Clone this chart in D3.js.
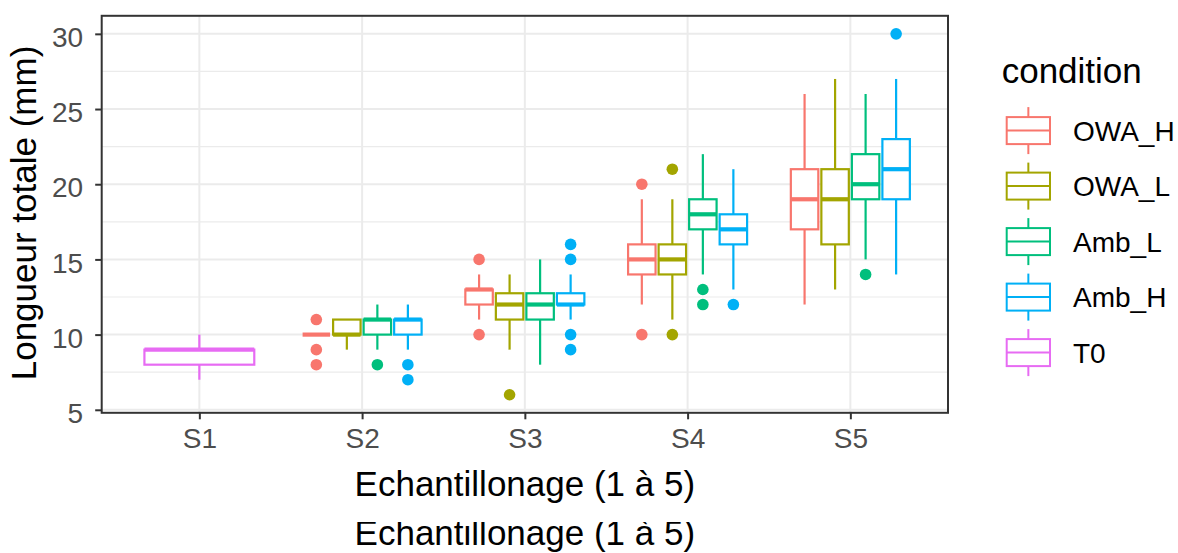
<!DOCTYPE html>
<html>
<head>
<meta charset="utf-8">
<script src="https://cdn.jsdelivr.net/npm/d3@7"></script>
<style>
  html, body { margin: 0; padding: 0; background: #ffffff; }
  svg { display: block; font-family: "Liberation Sans", Arial, sans-serif; }
</style>
</head>
<body>
<svg id="chart" width="1178" height="553"></svg>
<script>
// Sampling rounds and experimental conditions
const samples = ["S1", "S2", "S3", "S4", "S5"];
const conditions = ["OWA_H", "OWA_L", "Amb_L", "Amb_H", "T0"];
const colors = ["#F8766D", "#A3A500", "#00BF7D", "#00B0F6", "#E76BF3"];

// Box summaries per sample: [lower whisker, Q1, median, Q3, upper whisker]
const owaH = [null, [10, 10, 10, 10, 10], [11, 12, 13, 13, 14], [12, 14, 15, 16, 19], [12, 17, 19, 21, 26]];
const owaL = [null, [9, 10, 10, 11, 11], [9, 11, 12, 12.75, 14], [11, 14, 15, 16, 19], [13, 16, 19, 21, 27]];
const ambL = [null, [9, 10, 11, 11, 12], [8, 11, 12, 12.75, 15], [14, 17, 18, 19, 22], [15, 19, 20, 22, 26]];
const ambH = [null, [9, 10, 11, 11, 12], [11, 12, 12, 12.75, 14], [13, 16, 17, 18, 21], [14, 19, 21, 23, 27]];
const t0 = [[7, 8, 9, 9, 10], null, null, null, null];

// Outlying observations per sample
const owaHOut = [[], [11, 9, 8], [15, 10], [20, 10], []];
const owaLOut = [[], [], [6], [21, 10], []];
const ambLOut = [[], [8], [], [13, 12], [14]];
const ambHOut = [[], [8, 7], [16, 15, 10, 9], [12], [30]];
const t0Out = [[], [], [], [], []];

// Y axis breaks
const yMajor = [5, 10, 15, 20, 25, 30];
const yMinor = [7.5, 12.5, 17.5, 22.5, 27.5];

const stats = [owaH, owaL, ambL, ambH, t0];
const outs = [owaHOut, owaLOut, ambLOut, ambHOut, t0Out];

const svg = d3.select("#chart");
const panel = { left: 101.7, right: 948, top: 15.8, bottom: 412.8 };

const x = d3.scalePoint().domain(samples).range([panel.left, panel.right]).padding(0.6);
const y = d3.scaleLinear().domain([4.8, 31.2]).range([panel.bottom, panel.top]);
const color = d3.scaleOrdinal().domain(conditions).range(colors);

const step = x.step();
const dodgeWidth = 0.75 * step;

// Panel background and grid
svg.append("rect")
  .attr("x", panel.left).attr("y", panel.top)
  .attr("width", panel.right - panel.left).attr("height", panel.bottom - panel.top)
  .attr("fill", "#ffffff");

const grid = svg.append("g");
grid.selectAll("line.minor").data(yMinor).join("line")
  .attr("x1", panel.left).attr("x2", panel.right)
  .attr("y1", d => y(d)).attr("y2", d => y(d))
  .attr("stroke", "#EBEBEB").attr("stroke-width", 1.2);
grid.selectAll("line.majorY").data(yMajor).join("line")
  .attr("x1", panel.left).attr("x2", panel.right)
  .attr("y1", d => y(d)).attr("y2", d => y(d))
  .attr("stroke", "#EBEBEB").attr("stroke-width", 2);
grid.selectAll("line.majorX").data(samples).join("line")
  .attr("x1", d => x(d)).attr("x2", d => x(d))
  .attr("y1", panel.top).attr("y2", panel.bottom)
  .attr("stroke", "#EBEBEB").attr("stroke-width", 2);

// Build dodged box records
const boxes = [];
samples.forEach((s, si) => {
  const present = conditions.map((c, ci) => ci).filter(ci => stats[ci][si]);
  const n = present.length;
  const slot = dodgeWidth / n;
  present.forEach((ci, k) => {
    const cx = x(s) - dodgeWidth / 2 + slot * (k + 0.5);
    const v = stats[ci][si];
    boxes.push({
      cond: conditions[ci], cx, w: slot * 0.9,
      lo: v[0], q1: v[1], med: v[2], q3: v[3], hi: v[4],
      out: outs[ci][si]
    });
  });
});

const marks = svg.append("g");
const bg = marks.selectAll("g.box").data(boxes).join("g").attr("class", "box");

// outliers
bg.each(function (b) {
  d3.select(this).selectAll("circle").data(b.out).join("circle")
    .attr("cx", b.cx).attr("cy", d => y(d)).attr("r", 5.8)
    .attr("fill", color(b.cond));
});
// whiskers
bg.append("line")
  .attr("x1", b => b.cx).attr("x2", b => b.cx)
  .attr("y1", b => y(b.hi)).attr("y2", b => y(b.q3))
  .attr("stroke", b => color(b.cond)).attr("stroke-width", 2.2);
bg.append("line")
  .attr("x1", b => b.cx).attr("x2", b => b.cx)
  .attr("y1", b => y(b.q1)).attr("y2", b => y(b.lo))
  .attr("stroke", b => color(b.cond)).attr("stroke-width", 2.2);
// box
bg.append("rect")
  .attr("x", b => b.cx - b.w / 2).attr("width", b => b.w)
  .attr("y", b => y(b.q3)).attr("height", b => y(b.q1) - y(b.q3))
  .attr("fill", "#ffffff").attr("stroke", b => color(b.cond)).attr("stroke-width", 2.2);
// median
bg.append("line")
  .attr("x1", b => b.cx - b.w / 2).attr("x2", b => b.cx + b.w / 2)
  .attr("y1", b => y(b.med)).attr("y2", b => y(b.med))
  .attr("stroke", b => color(b.cond)).attr("stroke-width", 4.2);

// Panel border
svg.append("rect")
  .attr("x", panel.left).attr("y", panel.top)
  .attr("width", panel.right - panel.left).attr("height", panel.bottom - panel.top)
  .attr("fill", "none").attr("stroke", "#333333").attr("stroke-width", 2);

// Axes
const yAxis = svg.append("g")
  .attr("transform", `translate(${panel.left},0)`)
  .call(d3.axisLeft(y).tickValues(yMajor).tickSize(6.5).tickPadding(12).tickFormat(d3.format("d")));
const xAxis = svg.append("g")
  .attr("transform", `translate(0,${panel.bottom})`)
  .call(d3.axisBottom(x).tickSize(6.5).tickPadding(9));
[yAxis, xAxis].forEach(a => {
  a.select(".domain").remove();
  a.selectAll(".tick line").attr("stroke", "#333333").attr("stroke-width", 2);
  a.selectAll(".tick text").attr("fill", "#4D4D4D").attr("font-size", 28)
    .attr("font-family", "'Liberation Sans', Arial, sans-serif");
});
yAxis.selectAll(".tick text").attr("dy", "0.45em");
xAxis.selectAll(".tick text").attr("dy", "0.71em");

// Axis titles
svg.append("text")
  .attr("transform", "translate(36,213) rotate(-90)")
  .attr("text-anchor", "middle").attr("font-size", 35).attr("fill", "#000000")
  .text("Longueur totale (mm)");

svg.append("text")
  .attr("x", (panel.left + panel.right) / 2).attr("y", 496)
  .attr("text-anchor", "middle").attr("font-size", 35).attr("fill", "#000000")
  .text("Echantillonage (1 à 5)");

svg.append("clipPath").attr("id", "lowerCut")
  .append("rect").attr("x", 0).attr("y", 522).attr("width", 1178).attr("height", 40);
svg.append("text")
  .attr("clip-path", "url(#lowerCut)")
  .attr("x", (panel.left + panel.right) / 2).attr("y", 545)
  .attr("text-anchor", "middle").attr("font-size", 35).attr("fill", "#000000")
  .text("Echantillonage (1 à 5)");

// Legend
const legend = svg.append("g");
legend.append("text")
  .attr("x", 1001.7).attr("y", 83)
  .attr("font-size", 35).attr("fill", "#000000")
  .text("condition");

const keySpacing = 55.5;
const keyTop = 130.6;
const item = legend.selectAll("g.item").data(conditions).join("g")
  .attr("class", "item")
  .attr("transform", (d, i) => `translate(0,${keyTop + i * keySpacing})`);
const kx0 = 1006.7, kx1 = 1050, kcx = (kx0 + kx1) / 2;
item.append("line")
  .attr("x1", kcx).attr("x2", kcx).attr("y1", -23.5).attr("y2", 23.5)
  .attr("stroke", d => color(d)).attr("stroke-width", 2);
item.append("rect")
  .attr("x", kx0).attr("width", kx1 - kx0).attr("y", -13.5).attr("height", 27)
  .attr("fill", "#ffffff").attr("stroke", d => color(d)).attr("stroke-width", 2);
item.append("line")
  .attr("x1", kx0).attr("x2", kx1).attr("y1", 0).attr("y2", 0)
  .attr("stroke", d => color(d)).attr("stroke-width", 2);
item.append("text")
  .attr("x", 1073).attr("y", 0).attr("dy", "0.37em")
  .attr("font-size", 28).attr("fill", "#000000")
  .text(d => d);
</script>
</body>
</html>
